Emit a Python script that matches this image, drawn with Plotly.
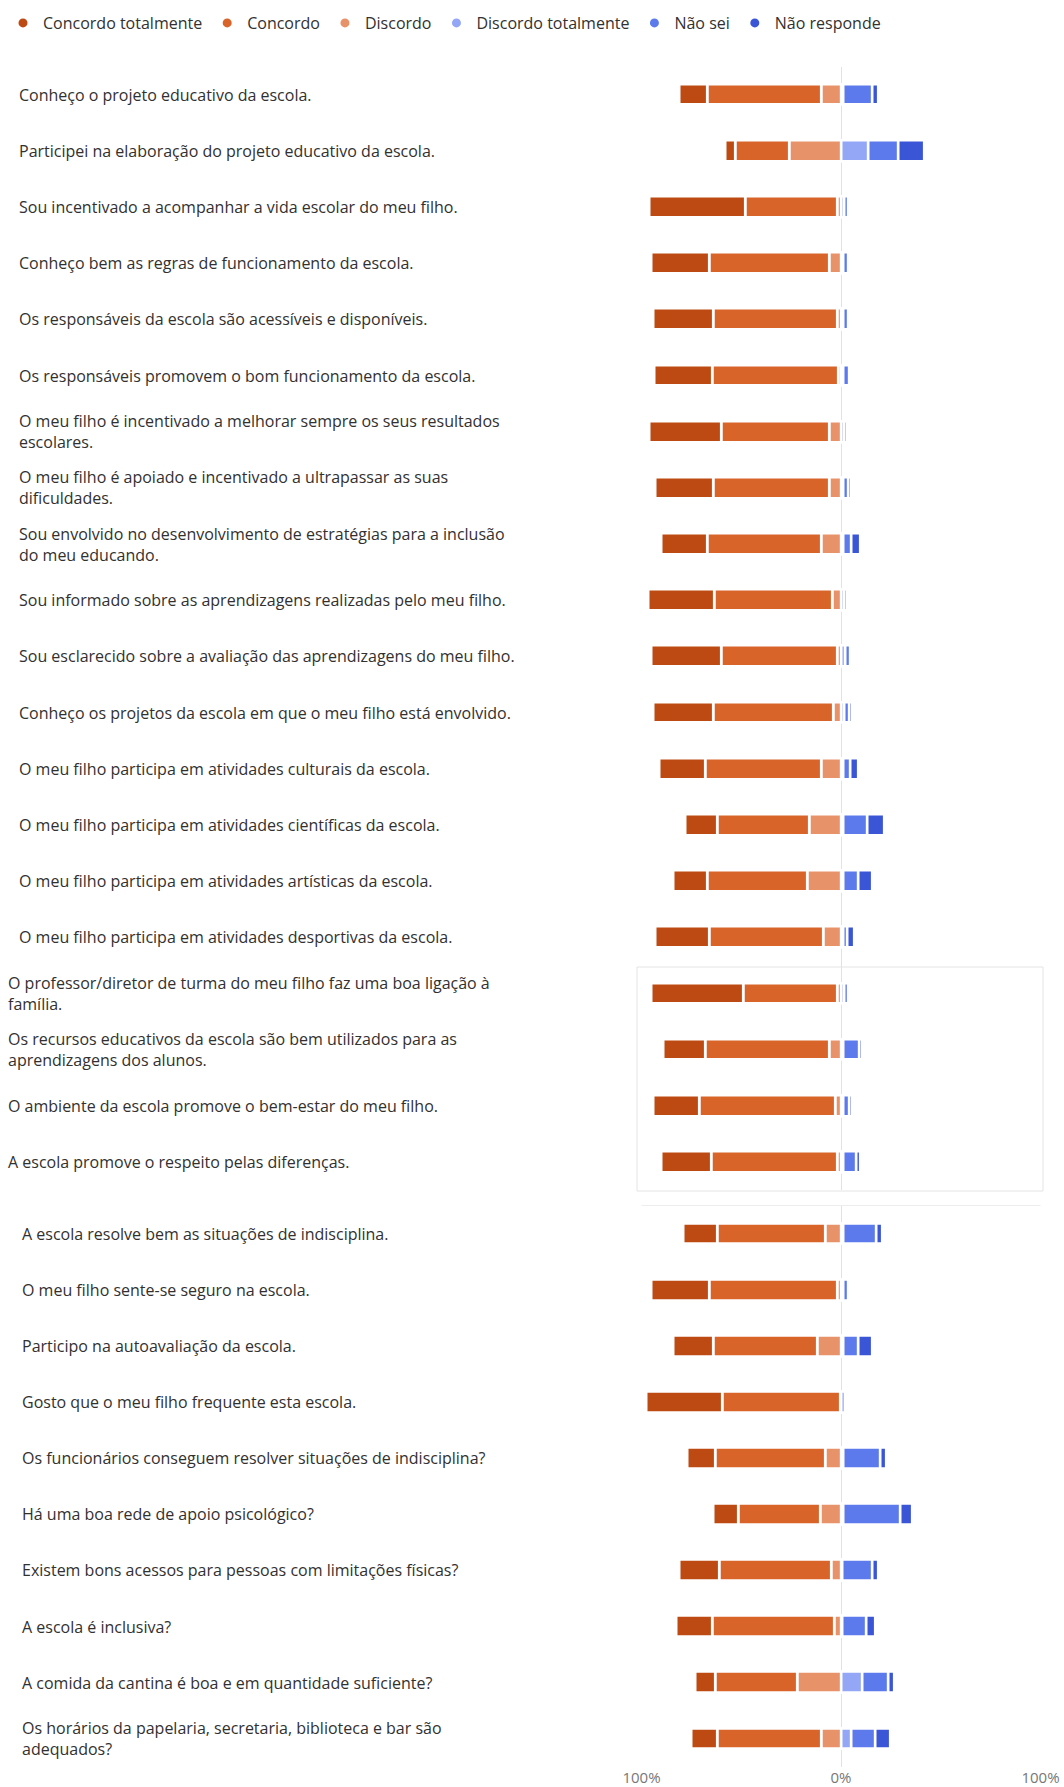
import plotly.graph_objects as go

# ---------------- data ----------------
questions_a = [
    "Conheço o projeto educativo da escola.",
    "Participei na elaboração do projeto educativo da escola.",
    "Sou incentivado a acompanhar a vida escolar do meu filho.",
    "Conheço bem as regras de funcionamento da escola.",
    "Os responsáveis da escola são acessíveis e disponíveis.",
    "Os responsáveis promovem o bom funcionamento da escola.",
    "O meu filho é incentivado a melhorar sempre os seus resultados<br>escolares.",
    "O meu filho é apoiado e incentivado a ultrapassar as suas<br>dificuldades.",
    "Sou envolvido no desenvolvimento de estratégias para a inclusão<br>do meu educando.",
    "Sou informado sobre as aprendizagens realizadas pelo meu filho.",
    "Sou esclarecido sobre a avaliação das aprendizagens do meu filho.",
    "Conheço os projetos da escola em que o meu filho está envolvido.",
    "O meu filho participa em atividades culturais da escola.",
    "O meu filho participa em atividades científicas da escola.",
    "O meu filho participa em atividades artísticas da escola.",
    "O meu filho participa em atividades desportivas da escola.",
    "O professor/diretor de turma do meu filho faz uma boa ligação à<br>família.",
    "Os recursos educativos da escola são bem utilizados para as<br>aprendizagens dos alunos.",
    "O ambiente da escola promove o bem-estar do meu filho.",
    "A escola promove o respeito pelas diferenças.",
]
questions_b = [
    "A escola resolve bem as situações de indisciplina.",
    "O meu filho sente-se seguro na escola.",
    "Participo na autoavaliação da escola.",
    "Gosto que o meu filho frequente esta escola.",
    "Os funcionários conseguem resolver situações de indisciplina?",
    "Há uma boa rede de apoio psicológico?",
    "Existem bons acessos para pessoas com limitações físicas?",
    "A escola é inclusiva?",
    "A comida da cantina é boa e em quantidade suficiente?",
    "Os horários da papelaria, secretaria, biblioteca e bar são<br>adequados?",
]

series_names = ["Concordo totalmente", "Concordo", "Discordo",
                "Discordo totalmente", "Não sei", "Não responde"]

# percentages (panel A: 20 questions, panel B: 10 questions)
concordo_totalmente_a = [14, 5, 48, 29, 30, 29, 36, 29, 23, 33, 35, 30, 23, 16, 17, 27, 46, 21, 23, 25]
concordo_a            = [57, 27, 46, 60, 62, 63, 54, 58, 57, 59, 58, 60, 58, 46, 50, 57, 47, 62, 68, 63]
discordo_a            = [10, 26, 2, 6, 2, 1.5, 6, 6, 10, 4.5, 2, 4, 10, 16, 17, 9, 2, 6, 3, 2]
discordo_tot_a        = [1, 14, 2, 1, 1, 1.5, 2, 1, 1, 2, 2.5, 2, 1, 1, 1, 1, 2, 1.5, 1, 1]
nao_sei_a             = [15, 15, 2, 3, 3, 3, 1.5, 3, 4.5, 1.5, 2.5, 2.5, 4, 12.5, 8, 2.5, 2, 8, 3.5, 7]
nao_responde_a        = [3, 13, 0, 1, 1, 1, 0.5, 1.5, 4.5, 0, 0, 1.5, 4, 8.5, 7, 3.5, 1, 1.5, 1.5, 2]

concordo_totalmente_b = [17, 29, 20, 38, 14, 12.5, 20, 18, 10, 13]
concordo_b            = [54, 64, 52, 59, 55, 41, 56, 61, 41, 52]
discordo_b            = [8, 2, 12, 0.5, 8, 10.5, 5, 3.5, 22, 10]
discordo_tot_b        = [1, 1.5, 1, 2.5, 1, 1, 0.5, 0.5, 11, 5.5]
nao_sei_b             = [17, 2.5, 8, 0, 19, 29, 15.5, 12.5, 13, 12]
nao_responde_b        = [3, 1, 7, 0, 3, 6, 3, 4.5, 3, 7.5]

tick_vals = [-100, 0, 100]
tick_text = ["100%", "0%", "100%"]

# ---------------- style ----------------
colors = {
    "Concordo totalmente": "#BD4A12",
    "Concordo": "#D9642A",
    "Discordo": "#E8926A",
    "Discordo totalmente": "#94A7F6",
    "Não sei": "#5D7AED",
    "Não responde": "#3A55D6",
}
FONT = "Open Sans, Noto Sans, sans-serif"
TEXT_COLOR = "#323130"
W, H = 1064, 1787
BAR_W = 0.37
GAP = 2.6

fig = go.Figure()

panels = [
    ("y", questions_a, [concordo_totalmente_a, concordo_a, discordo_a,
                        discordo_tot_a, nao_sei_a, nao_responde_a]),
    ("y2", questions_b, [concordo_totalmente_b, concordo_b, discordo_b,
                         discordo_tot_b, nao_sei_b, nao_responde_b]),
]

for yref, qs, vals in panels:
    xref = "x" if yref == "y" else "x2"
    ct, c, d, dt, ns, nr = vals
    # left side: stacked outward from zero (Discordo nearest zero)
    for name, v in [("Discordo", d), ("Concordo", c), ("Concordo totalmente", ct)]:
        fig.add_trace(go.Bar(
            y=qs, x=[-a for a in v], orientation="h", name=name,
            marker=dict(color=colors[name], line=dict(color="white", width=GAP)),
            width=BAR_W, showlegend=False, xaxis=xref, yaxis=yref,
            customdata=v, hovertemplate="%{customdata}%<extra>" + name + "</extra>",
        ))
    for name, v in [("Discordo totalmente", dt), ("Não sei", ns), ("Não responde", nr)]:
        fig.add_trace(go.Bar(
            y=qs, x=v, orientation="h", name=name,
            marker=dict(color=colors[name], line=dict(color="white", width=GAP)),
            width=BAR_W, showlegend=False, xaxis=xref, yaxis=yref,
            hovertemplate="%{x}%<extra>" + name + "</extra>",
        ))

# legend entries with round markers
for i, name in enumerate(series_names):
    fig.add_trace(go.Scatter(
        x=[None], y=[None], mode="markers", name=name,
        marker=dict(color=colors[name], size=9, symbol="circle"),
        legendrank=i + 1, xaxis="x", yaxis="y",
    ))

# row-label annotations (left aligned)
LABEL_SIZE = 16
annotations = []
for i, q in enumerate(questions_a):
    xpx = 6 if i >= 16 else 17
    annotations.append(dict(
        x=xpx / W, xref="paper", y=q, yref="y", xanchor="left", yanchor="middle",
        align="left", text=q, showarrow=False,
        font=dict(family=FONT, size=LABEL_SIZE, color=TEXT_COLOR)))
for q in questions_b:
    annotations.append(dict(
        x=20 / W, xref="paper", y=q, yref="y2", xanchor="left", yanchor="middle",
        align="left", text=q, showarrow=False,
        font=dict(family=FONT, size=LABEL_SIZE, color=TEXT_COLOR)))

x_dom = [641.5 / W, 1040.5 / W]
ya_dom = [1 - 1190.1 / H, 1 - 66.6 / H]
yb_dom = [1 - 1766.8 / H, 1 - 1205.8 / H]

axis_common = dict(
    range=[-100, 100], tickvals=tick_vals, ticktext=tick_text,
    showgrid=True, gridcolor="#E2E2E2", gridwidth=1, zeroline=False,
    showline=False, ticks="", fixedrange=True,
)

shapes = [
    # framed block around the last four rows of panel A
    dict(type="rect", xref="paper", yref="paper",
         x0=637 / W, x1=1043 / W, y0=1 - 1191 / H, y1=1 - 967 / H,
         line=dict(color="#E4E4E4", width=1), fillcolor="rgba(0,0,0,0)", layer="below"),
    # top edge of panel B
    dict(type="line", xref="paper", yref="paper",
         x0=641.5 / W, x1=1040.5 / W, y0=1 - 1205.5 / H, y1=1 - 1205.5 / H,
         line=dict(color="#EDEDED", width=1), layer="below"),
]

fig.update_layout(
    width=W, height=H,
    margin=dict(l=0, r=0, t=0, b=0, autoexpand=False),
    paper_bgcolor="white", plot_bgcolor="white",
    barmode="relative", bargap=0,
    font=dict(family=FONT, size=14, color=TEXT_COLOR),
    xaxis=dict(domain=x_dom, anchor="y", showticklabels=False, **axis_common),
    xaxis2=dict(domain=x_dom, anchor="y2", matches="x", showticklabels=True,
                tickfont=dict(family=FONT, size=15, color="#777777"), **axis_common),
    yaxis=dict(domain=ya_dom, anchor="x", range=[19.5, -0.5], showticklabels=False,
               showgrid=False, zeroline=False, fixedrange=True, categoryorder="array",
               categoryarray=questions_a),
    yaxis2=dict(domain=yb_dom, anchor="x2", range=[9.5, -0.5], showticklabels=False,
                showgrid=False, zeroline=False, fixedrange=True, categoryorder="array",
                categoryarray=questions_b),
    legend=dict(orientation="h", x=3 / W, xanchor="left", y=1 - 23 / H, yanchor="middle",
                font=dict(family=FONT, size=16, color=TEXT_COLOR),
                itemwidth=30, bgcolor="rgba(0,0,0,0)", traceorder="normal"),
    annotations=annotations,
    shapes=shapes,
    showlegend=True,
)

fig.write_html(
    "out.html",
    config={"displayModeBar": False},
    post_script="document.body.style.margin='0';document.body.style.overflow='hidden';",
)
